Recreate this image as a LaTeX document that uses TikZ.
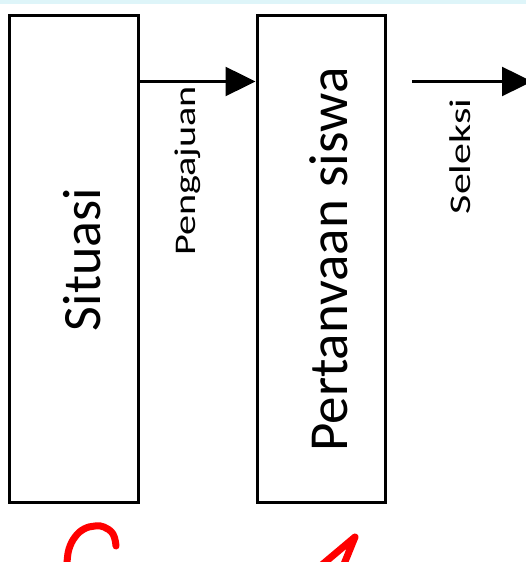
\documentclass[tikz,border=0pt]{standalone}
\usepackage{fontspec}
\setmainfont{Carlito}
\usetikzlibrary{arrows.meta}
\definecolor{topstrip}{RGB}{222,245,249}
\newcommand{\stretchlabel}[2][1.34]{\scalebox{#1}[1]{#2}}

\begin{document}
\begin{tikzpicture}[
    x=1pt, y=1pt,
    panel/.style={rectangle, draw=black, line width=3pt, rotate=90, inner sep=0pt,
                  minimum width=487pt, minimum height=129pt,
                  text height=52pt, text depth=0pt,
                  font=\fontsize{54}{60}\selectfont},
    lbl/.style={rotate=90, anchor=base, inner sep=0pt, font=\fontsize{30}{34}\selectfont},
    flow/.style={-{Triangle[length=30pt, width=29pt]}, line width=2.5pt},
    inkstroke/.style={red, line width=7pt, line cap=round, line join=round},
]
    \useasboundingbox (0,0) rectangle (526,562);
    \clip (0,0) rectangle (526,562);
    \fill[topstrip] (0,558) rectangle (526,562);

    \node[panel] (situasi) at (74,302.5) {Situasi};
    \node[panel, minimum height=128.5pt, font=\fontsize{55}{60}\selectfont]
        (pertanyaan) at (321.25,302.5) {Pertanvaan siswa};

    \draw[flow] ([yshift=178pt]situasi.south) -- ([yshift=178pt]pertanyaan.north);
    \node[lbl] (pengajuan) at (195,391) {\stretchlabel{Pengajuan}};

    \coordinate (seleksistart) at (412,480.5);
    \coordinate (seleksiend) at (532,480.5);
    \draw[flow] (seleksistart) -- (seleksiend);
    \node[lbl] (seleksi) at (470.5,405.5) {\stretchlabel[1.4]{Seleksi}};

    % red pen marks along the bottom edge
    \draw[inkstroke] plot[smooth, tension=0.7] coordinates
        {(116,16) (113,28) (104,35) (95,36) (84,33) (75,25) (69,13) (67,0) (66,-8)};
    \draw[inkstroke] (317,-7) -- (355,25) -- (342,-7);
\end{tikzpicture}
\end{document}
